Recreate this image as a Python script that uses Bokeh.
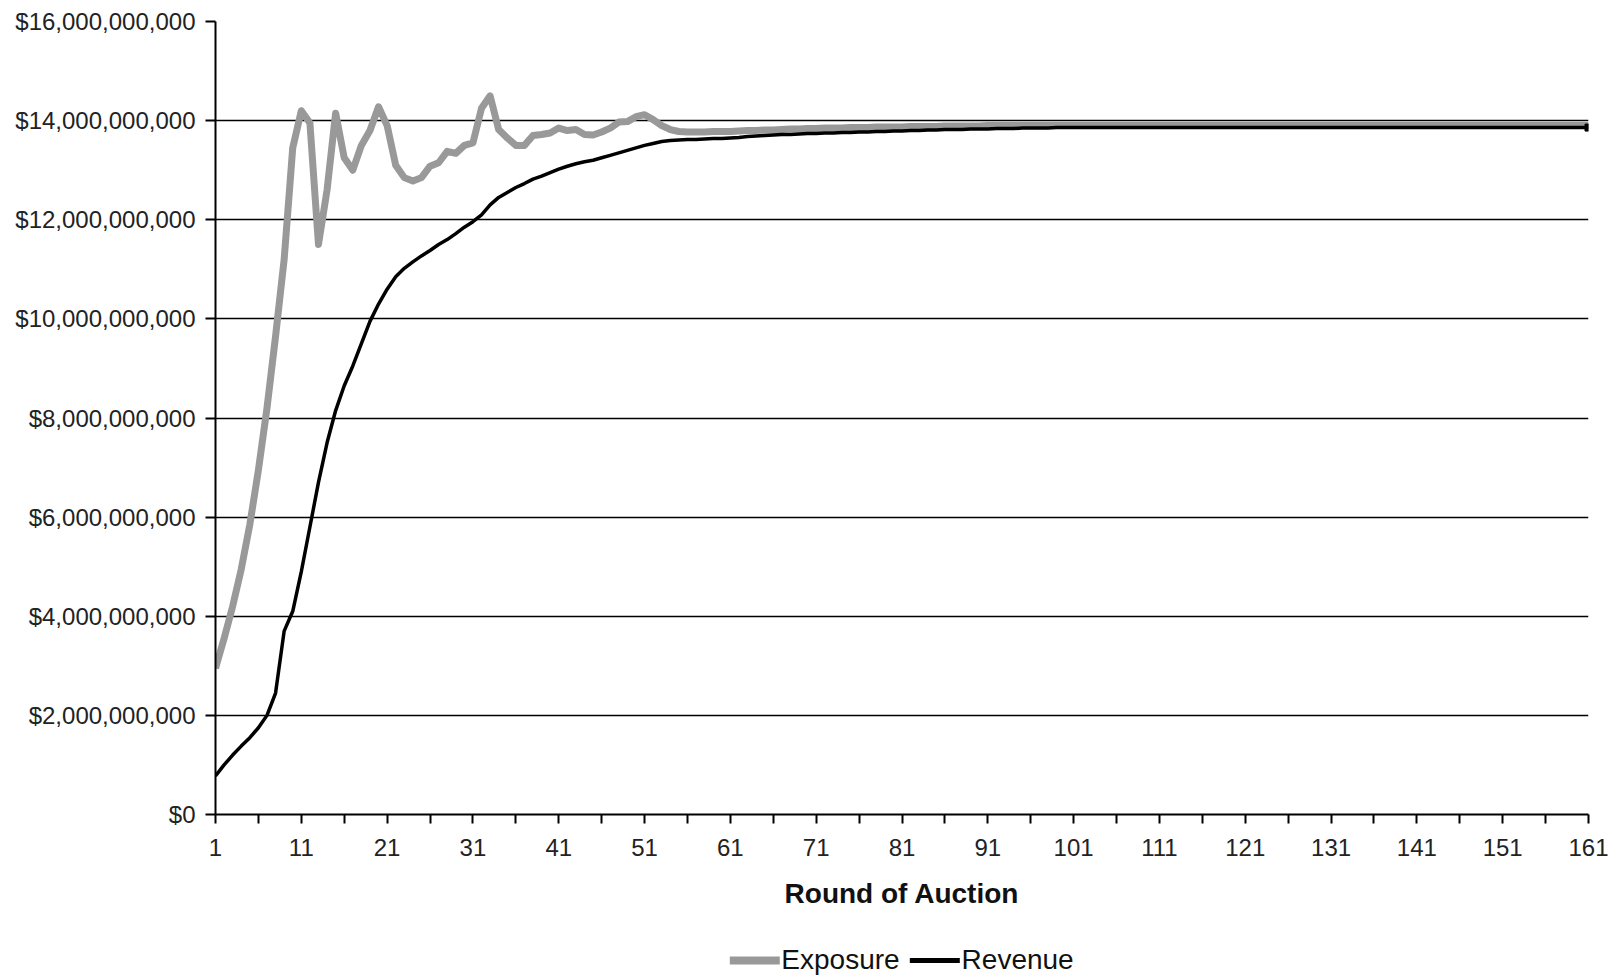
from bokeh.plotting import figure
from bokeh.models import ColumnDataSource, FixedTicker, NumeralTickFormatter, Legend, LegendItem, Range1d
from bokeh.layouts import column
from bokeh.embed import file_html
from bokeh.resources import INLINE

rounds = list(range(1, 162))

# Values in billions of dollars
exposure_bn = [
    2.95, 3.55, 4.20, 4.95, 5.85, 6.95, 8.20, 9.65, 11.20, 13.45,
    14.20, 13.95, 11.50, 12.60, 14.15, 13.25, 13.00, 13.50, 13.80, 14.28,
    13.90, 13.10, 12.85, 12.78, 12.85, 13.08, 13.15, 13.38, 13.34, 13.50,
    13.55, 14.25, 14.50, 13.82, 13.65, 13.50, 13.50, 13.70, 13.72, 13.75,
    13.85, 13.80, 13.82, 13.72, 13.71, 13.77, 13.85, 13.97, 13.98, 14.08,
    14.12, 14.02, 13.90, 13.82, 13.78, 13.77, 13.77, 13.77, 13.78, 13.78,
    13.78, 13.79, 13.80, 13.80, 13.81, 13.81, 13.82, 13.83, 13.83, 13.84,
    13.84, 13.85, 13.85, 13.85, 13.86, 13.86, 13.86, 13.87, 13.87, 13.87,
    13.87, 13.88, 13.88, 13.88, 13.88, 13.89, 13.89, 13.89, 13.89, 13.89,
    13.90, 13.90, 13.90, 13.90, 13.90, 13.90, 13.90, 13.90, 13.90, 13.90,
    13.90, 13.90, 13.90, 13.90, 13.90, 13.90, 13.90, 13.90, 13.90, 13.90,
    13.90, 13.90, 13.90, 13.90, 13.90, 13.90, 13.90, 13.90, 13.90, 13.90,
    13.90, 13.90, 13.90, 13.90, 13.90, 13.90, 13.90, 13.90, 13.90, 13.90,
    13.90, 13.90, 13.90, 13.90, 13.90, 13.90, 13.90, 13.90, 13.90, 13.90,
    13.90, 13.90, 13.90, 13.90, 13.90, 13.90, 13.90, 13.90, 13.90, 13.90,
    13.90, 13.90, 13.90, 13.90, 13.90, 13.90, 13.90, 13.90, 13.90, 13.90,
    13.90,
]

revenue_bn = [
    0.78, 1.00, 1.20, 1.38, 1.55, 1.75, 2.00, 2.45, 3.70, 4.10,
    4.90, 5.80, 6.70, 7.50, 8.15, 8.65, 9.05, 9.50, 9.95, 10.30,
    10.60, 10.85, 11.02, 11.15, 11.27, 11.38, 11.50, 11.60, 11.72, 11.85,
    11.96, 12.10, 12.30, 12.45, 12.55, 12.65, 12.73, 12.82, 12.88, 12.95,
    13.02, 13.08, 13.13, 13.17, 13.20, 13.25, 13.30, 13.35, 13.40, 13.45,
    13.50, 13.54, 13.58, 13.60, 13.61, 13.62, 13.62, 13.63, 13.64, 13.64,
    13.65, 13.66, 13.68, 13.69, 13.70, 13.71, 13.72, 13.72, 13.73, 13.74,
    13.74, 13.75, 13.75, 13.76, 13.76, 13.77, 13.77, 13.78, 13.78, 13.79,
    13.79, 13.80, 13.80, 13.81, 13.81, 13.82, 13.82, 13.82, 13.83, 13.83,
    13.83, 13.84, 13.84, 13.84, 13.85, 13.85, 13.85, 13.85, 13.86, 13.86,
    13.86, 13.86, 13.86, 13.86, 13.86, 13.86, 13.86, 13.86, 13.86, 13.86,
    13.86, 13.86, 13.86, 13.86, 13.86, 13.86, 13.86, 13.86, 13.86, 13.86,
    13.86, 13.86, 13.86, 13.86, 13.86, 13.86, 13.86, 13.86, 13.86, 13.86,
    13.86, 13.86, 13.86, 13.86, 13.86, 13.86, 13.86, 13.86, 13.86, 13.86,
    13.86, 13.86, 13.86, 13.86, 13.86, 13.86, 13.86, 13.86, 13.86, 13.86,
    13.86, 13.86, 13.86, 13.86, 13.86, 13.86, 13.86, 13.86, 13.86, 13.86,
    13.86,
]

series_names = ["Exposure", "Revenue"]
x_tick_labels = [str(r) for r in range(1, 162, 10)]
y_ticks = [0, 2e9, 4e9, 6e9, 8e9, 10e9, 12e9, 14e9, 16e9]

source = ColumnDataSource(data=dict(
    round=rounds,
    exposure=[v * 1e9 for v in exposure_bn],
    revenue=[v * 1e9 for v in revenue_bn],
))
end_source = ColumnDataSource(data=dict(round=rounds[-1:], revenue=[revenue_bn[-1] * 1e9]))

FONT = "Liberation Sans"
EXP_COLOR = "#999999"
REV_COLOR = "#000000"

p = figure(width=1619, height=940, output_backend="svg", toolbar_location=None,
           x_range=Range1d(1, 161), y_range=Range1d(0, 16e9),
           min_border_left=215, min_border_right=31, min_border_top=21,
           min_border_bottom=126)
p.outline_line_color = None
p.background_fill_color = "white"
p.border_fill_color = "white"

r_exp = p.line("round", "exposure", source=source, line_color=EXP_COLOR, line_width=7,
               line_join="round")
r_rev = p.line("round", "revenue", source=source, line_color=REV_COLOR, line_width=3.5,
               line_join="round")
p.scatter("round", "revenue", source=end_source, marker="square", size=7,
          fill_color=REV_COLOR, line_color=REV_COLOR)

# x axis
p.xaxis.ticker = FixedTicker(ticks=[int(t) for t in x_tick_labels],
                             minor_ticks=list(range(6, 162, 10)))
p.xaxis.axis_label = "Round of Auction"
p.xaxis.axis_label_text_font = FONT
p.xaxis.axis_label_text_font_style = "bold"
p.xaxis.axis_label_text_font_size = "28px"
p.xaxis.axis_label_text_color = "#111111"
p.xaxis.axis_label_standoff = 19
p.xaxis.major_label_text_font = FONT
p.xaxis.major_label_text_font_size = "24px"
p.xaxis.major_label_text_color = "#222222"
p.xaxis.major_label_standoff = 15
p.xaxis.major_tick_out = 9
p.xaxis.major_tick_in = 0
p.xaxis.minor_tick_out = 9
p.xaxis.minor_tick_in = 0
p.xaxis.axis_line_color = "black"
p.xaxis.axis_line_width = 2
p.xaxis.major_tick_line_width = 2
p.xaxis.minor_tick_line_width = 2
p.xaxis.major_tick_line_color = "black"
p.xaxis.minor_tick_line_color = "black"

# y axis
p.yaxis.ticker = FixedTicker(ticks=y_ticks)
p.yaxis.formatter = NumeralTickFormatter(format="$0,0")
p.yaxis.major_label_text_font = FONT
p.yaxis.major_label_text_font_size = "24px"
p.yaxis.major_label_text_color = "#222222"
p.yaxis.major_label_standoff = 10
p.yaxis.major_tick_out = 10
p.yaxis.major_tick_in = 0
p.yaxis.minor_tick_out = 0
p.yaxis.minor_tick_in = 0
p.yaxis.axis_line_color = "black"
p.yaxis.axis_line_width = 2
p.yaxis.major_tick_line_width = 2
p.yaxis.major_tick_line_color = "black"

p.xgrid.grid_line_color = None
p.ygrid.grid_line_color = "black"
p.ygrid.grid_line_width = 1.5
p.ygrid.ticker = FixedTicker(ticks=y_ticks)

# Legend strip underneath (separate figure so the legend is not clipped).
# Its ranges exclude all data, so its own lines only show in the legend.
lg = figure(width=1619, height=39, output_backend="svg", toolbar_location=None,
            x_range=Range1d(-1, 0), y_range=Range1d(-1, 0),
            min_border_left=215, min_border_right=31, min_border_top=0, min_border_bottom=0)
lg.outline_line_color = None
lg.axis.visible = False
lg.grid.visible = False
lg.border_fill_color = "white"
lg.background_fill_color = "white"
lg_exp = lg.line("round", "exposure", source=source, line_color=EXP_COLOR, line_width=8,
                 line_cap="round")
lg_rev = lg.line("round", "revenue", source=source, line_color=REV_COLOR, line_width=5,
                 line_cap="round")

legend = Legend(items=[LegendItem(label=series_names[0], renderers=[lg_exp]),
                       LegendItem(label=series_names[1], renderers=[lg_rev])],
                orientation="horizontal", location="center")
legend.label_text_font = FONT
legend.label_text_font_size = "28px"
legend.label_text_color = "#111111"
legend.border_line_color = None
legend.background_fill_alpha = 0
legend.glyph_width = 50
legend.glyph_height = 20
legend.label_standoff = 2
legend.spacing = 10
legend.padding = 0
legend.margin = 0
lg.add_layout(legend, "center")

layout = column(p, lg, spacing=0)
open("out.html", "w").write(file_html(layout, INLINE))
